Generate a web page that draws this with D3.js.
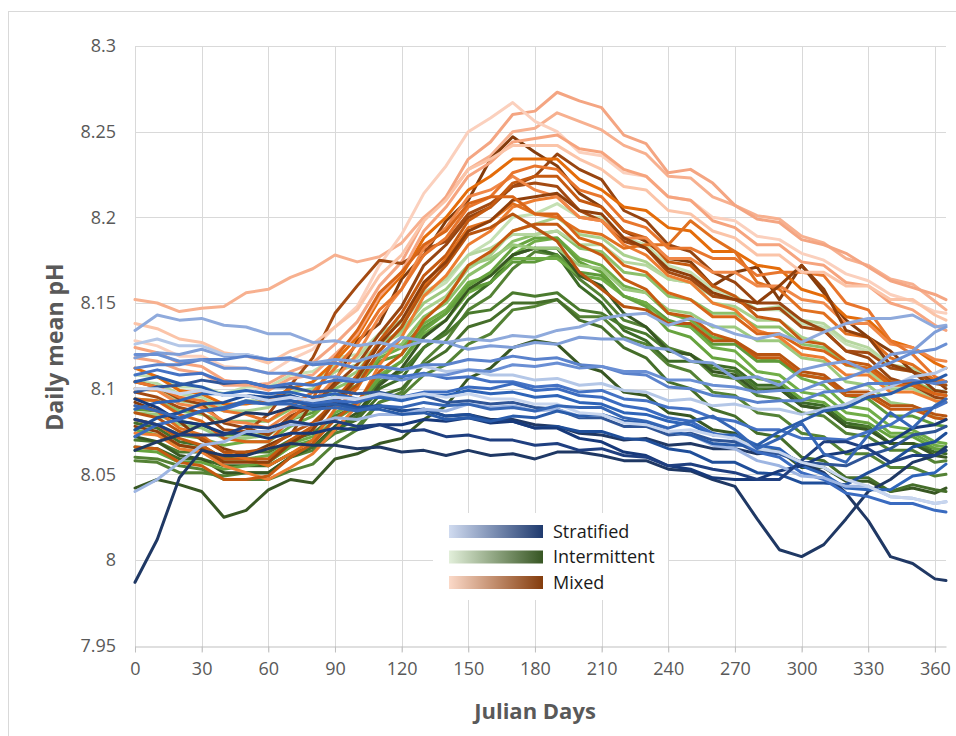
<!DOCTYPE html>
<html>
<head>
	<meta charset="utf-8">
	<title>Daily mean pH</title>
	<style>
		body { margin: 0; background: #fff; }
		text { font-family: "Open Sans", "DejaVu Sans", sans-serif; }
	</style>
	<script src="https://d3js.org/d3.v7.min.js"></script>
</head>
<body>
<script>

// sample days (Julian day) shared by every series
var days = [0, 10, 20, 30, 40, 50, 60, 70, 80, 90, 100, 110, 120, 130, 140, 150, 160, 170, 180, 190, 200, 210, 220, 230, 240, 250, 260, 270, 280, 290, 300, 310, 320, 330, 340, 350, 360, 365];

var xTicks = [0, 30, 60, 90, 120, 150, 180, 210, 240, 270, 300, 330, 360];
var yTicks = [7.95, 8, 8.05, 8.1, 8.15, 8.2, 8.25, 8.3];

var legendLabels = ["Stratified", "Intermittent", "Mixed"];

// Mixed sites
var mixed = [
	[8.152, 8.150, 8.145, 8.147, 8.148, 8.156, 8.158, 8.165, 8.170, 8.178, 8.174, 8.177, 8.185, 8.200, 8.211, 8.228, 8.236, 8.250, 8.252, 8.261, 8.256, 8.251, 8.242, 8.237, 8.224, 8.223, 8.212, 8.207, 8.201, 8.199, 8.189, 8.185, 8.176, 8.172, 8.164, 8.161, 8.151, 8.146],
	[8.118, 8.116, 8.111, 8.109, 8.102, 8.102, 8.103, 8.110, 8.115, 8.126, 8.139, 8.160, 8.174, 8.198, 8.212, 8.234, 8.244, 8.260, 8.262, 8.273, 8.268, 8.264, 8.248, 8.243, 8.226, 8.228, 8.220, 8.207, 8.199, 8.197, 8.187, 8.184, 8.179, 8.171, 8.163, 8.159, 8.155, 8.152],
	[8.128, 8.125, 8.119, 8.119, 8.113, 8.112, 8.109, 8.117, 8.123, 8.136, 8.148, 8.172, 8.190, 8.214, 8.230, 8.250, 8.258, 8.267, 8.256, 8.250, 8.238, 8.236, 8.226, 8.224, 8.212, 8.210, 8.200, 8.198, 8.189, 8.187, 8.179, 8.175, 8.167, 8.163, 8.155, 8.151, 8.145, 8.144],
	[8.092, 8.087, 8.081, 8.070, 8.065, 8.061, 8.067, 8.073, 8.092, 8.104, 8.128, 8.138, 8.164, 8.178, 8.198, 8.210, 8.234, 8.247, 8.238, 8.230, 8.214, 8.206, 8.192, 8.186, 8.176, 8.174, 8.160, 8.168, 8.171, 8.152, 8.172, 8.156, 8.140, 8.130, 8.122, 8.110, 8.105, 8.100],
	[8.104, 8.101, 8.094, 8.091, 8.080, 8.077, 8.073, 8.084, 8.090, 8.102, 8.114, 8.132, 8.148, 8.172, 8.184, 8.200, 8.206, 8.218, 8.224, 8.237, 8.228, 8.222, 8.204, 8.198, 8.184, 8.180, 8.168, 8.162, 8.150, 8.150, 8.140, 8.134, 8.122, 8.118, 8.106, 8.102, 8.095, 8.094],
	[8.098, 8.095, 8.089, 8.086, 8.076, 8.075, 8.085, 8.102, 8.118, 8.144, 8.160, 8.175, 8.173, 8.181, 8.186, 8.202, 8.208, 8.218, 8.220, 8.218, 8.204, 8.198, 8.186, 8.182, 8.168, 8.164, 8.154, 8.152, 8.146, 8.147, 8.136, 8.134, 8.122, 8.121, 8.112, 8.110, 8.103, 8.102],
	[8.082, 8.079, 8.071, 8.067, 8.059, 8.059, 8.059, 8.070, 8.078, 8.094, 8.108, 8.128, 8.144, 8.166, 8.178, 8.198, 8.206, 8.220, 8.224, 8.224, 8.210, 8.206, 8.192, 8.188, 8.174, 8.172, 8.160, 8.154, 8.142, 8.140, 8.128, 8.126, 8.116, 8.114, 8.104, 8.104, 8.097, 8.096],
	[8.112, 8.107, 8.099, 8.097, 8.091, 8.091, 8.093, 8.100, 8.104, 8.116, 8.130, 8.152, 8.166, 8.188, 8.200, 8.216, 8.224, 8.234, 8.234, 8.234, 8.222, 8.216, 8.206, 8.204, 8.194, 8.192, 8.180, 8.180, 8.172, 8.170, 8.158, 8.154, 8.142, 8.140, 8.128, 8.124, 8.115, 8.112],
	[8.074, 8.073, 8.065, 8.063, 8.055, 8.051, 8.047, 8.054, 8.062, 8.076, 8.090, 8.114, 8.130, 8.154, 8.166, 8.184, 8.192, 8.206, 8.210, 8.212, 8.200, 8.198, 8.184, 8.178, 8.166, 8.162, 8.150, 8.146, 8.134, 8.130, 8.120, 8.118, 8.108, 8.108, 8.098, 8.098, 8.093, 8.092],
	[8.090, 8.087, 8.077, 8.073, 8.063, 8.059, 8.055, 8.062, 8.070, 8.088, 8.100, 8.122, 8.136, 8.160, 8.176, 8.194, 8.198, 8.208, 8.202, 8.200, 8.192, 8.190, 8.182, 8.184, 8.184, 8.198, 8.188, 8.180, 8.162, 8.158, 8.146, 8.144, 8.132, 8.130, 8.118, 8.114, 8.105, 8.104],
	[8.100, 8.099, 8.091, 8.089, 8.081, 8.080, 8.077, 8.086, 8.092, 8.106, 8.120, 8.142, 8.158, 8.182, 8.194, 8.212, 8.216, 8.224, 8.216, 8.212, 8.200, 8.198, 8.188, 8.188, 8.176, 8.176, 8.168, 8.168, 8.160, 8.160, 8.152, 8.150, 8.138, 8.138, 8.126, 8.124, 8.117, 8.116],
	[8.066, 8.065, 8.057, 8.055, 8.047, 8.047, 8.049, 8.060, 8.068, 8.082, 8.092, 8.110, 8.120, 8.140, 8.152, 8.172, 8.180, 8.192, 8.196, 8.196, 8.184, 8.178, 8.164, 8.158, 8.144, 8.142, 8.132, 8.128, 8.118, 8.118, 8.108, 8.106, 8.096, 8.096, 8.088, 8.088, 8.083, 8.082],
	[8.086, 8.083, 8.075, 8.071, 8.063, 8.063, 8.065, 8.074, 8.080, 8.092, 8.102, 8.122, 8.136, 8.158, 8.172, 8.190, 8.194, 8.202, 8.194, 8.186, 8.168, 8.158, 8.148, 8.146, 8.138, 8.138, 8.128, 8.128, 8.120, 8.120, 8.110, 8.108, 8.098, 8.098, 8.090, 8.090, 8.085, 8.084],
	[8.124, 8.121, 8.115, 8.113, 8.105, 8.103, 8.099, 8.106, 8.108, 8.120, 8.132, 8.154, 8.168, 8.192, 8.206, 8.224, 8.232, 8.244, 8.246, 8.248, 8.240, 8.238, 8.228, 8.224, 8.212, 8.210, 8.198, 8.194, 8.184, 8.184, 8.174, 8.172, 8.162, 8.160, 8.150, 8.146, 8.137, 8.134],
	[8.104, 8.101, 8.095, 8.093, 8.087, 8.085, 8.081, 8.090, 8.098, 8.112, 8.126, 8.146, 8.158, 8.178, 8.188, 8.206, 8.212, 8.226, 8.230, 8.228, 8.216, 8.212, 8.198, 8.194, 8.182, 8.182, 8.176, 8.176, 8.166, 8.168, 8.168, 8.166, 8.150, 8.146, 8.128, 8.120, 8.107, 8.104],
	[8.078, 8.075, 8.067, 8.065, 8.057, 8.057, 8.057, 8.068, 8.076, 8.092, 8.106, 8.126, 8.140, 8.162, 8.174, 8.192, 8.198, 8.210, 8.212, 8.214, 8.204, 8.202, 8.188, 8.182, 8.170, 8.166, 8.156, 8.152, 8.150, 8.160, 8.172, 8.158, 8.134, 8.130, 8.114, 8.110, 8.099, 8.098],
	[8.138, 8.135, 8.129, 8.127, 8.121, 8.119, 8.115, 8.122, 8.126, 8.136, 8.146, 8.166, 8.178, 8.198, 8.210, 8.228, 8.234, 8.242, 8.242, 8.242, 8.234, 8.228, 8.218, 8.216, 8.204, 8.202, 8.192, 8.188, 8.178, 8.178, 8.168, 8.168, 8.160, 8.160, 8.152, 8.152, 8.143, 8.140],
	[8.094, 8.093, 8.085, 8.081, 8.071, 8.069, 8.069, 8.082, 8.094, 8.118, 8.134, 8.156, 8.168, 8.184, 8.192, 8.208, 8.212, 8.212, 8.202, 8.202, 8.188, 8.184, 8.172, 8.168, 8.156, 8.152, 8.142, 8.142, 8.132, 8.132, 8.124, 8.122, 8.114, 8.112, 8.102, 8.102, 8.097, 8.096]
];
var mixedColors = ["#f7b08f", "#f4a582", "#fbd0bd", "#843c0c", "#974511", "#a34a12", "#c55a11", "#e46c0a", "#ed7d31", "#e0701f", "#f08848", "#c55a11", "#b85410", "#f6a47e", "#e8762d", "#8f3f0b", "#fbc4a8", "#d86518"];

// Intermittent sites
var intermittent = [
	[8.042, 8.047, 8.044, 8.040, 8.025, 8.029, 8.041, 8.047, 8.045, 8.059, 8.062, 8.068, 8.071, 8.082, 8.090, 8.106, 8.112, 8.124, 8.128, 8.126, 8.114, 8.110, 8.098, 8.096, 8.086, 8.084, 8.076, 8.074, 8.064, 8.064, 8.054, 8.054, 8.046, 8.046, 8.040, 8.042, 8.039, 8.042],
	[8.060, 8.059, 8.055, 8.053, 8.047, 8.047, 8.047, 8.052, 8.056, 8.068, 8.076, 8.092, 8.098, 8.116, 8.128, 8.146, 8.154, 8.170, 8.180, 8.178, 8.164, 8.154, 8.140, 8.136, 8.124, 8.120, 8.108, 8.106, 8.096, 8.094, 8.086, 8.084, 8.074, 8.072, 8.064, 8.064, 8.057, 8.058],
	[8.076, 8.073, 8.067, 8.065, 8.059, 8.059, 8.061, 8.068, 8.072, 8.086, 8.092, 8.108, 8.116, 8.132, 8.140, 8.156, 8.162, 8.178, 8.186, 8.188, 8.176, 8.172, 8.160, 8.156, 8.144, 8.140, 8.130, 8.128, 8.118, 8.116, 8.106, 8.102, 8.090, 8.088, 8.078, 8.076, 8.069, 8.068],
	[8.100, 8.099, 8.093, 8.091, 8.087, 8.087, 8.089, 8.098, 8.100, 8.110, 8.114, 8.126, 8.132, 8.146, 8.154, 8.170, 8.178, 8.192, 8.196, 8.200, 8.190, 8.188, 8.178, 8.174, 8.164, 8.162, 8.150, 8.148, 8.140, 8.140, 8.130, 8.126, 8.114, 8.110, 8.100, 8.100, 8.093, 8.092],
	[8.066, 8.065, 8.059, 8.059, 8.055, 8.055, 8.055, 8.062, 8.066, 8.076, 8.084, 8.100, 8.106, 8.124, 8.134, 8.152, 8.162, 8.178, 8.182, 8.178, 8.160, 8.150, 8.134, 8.128, 8.116, 8.116, 8.114, 8.112, 8.102, 8.102, 8.092, 8.090, 8.080, 8.078, 8.068, 8.068, 8.063, 8.062],
	[8.088, 8.087, 8.081, 8.079, 8.073, 8.073, 8.073, 8.082, 8.086, 8.096, 8.102, 8.116, 8.120, 8.136, 8.144, 8.158, 8.162, 8.174, 8.174, 8.178, 8.168, 8.166, 8.154, 8.150, 8.140, 8.136, 8.126, 8.126, 8.116, 8.116, 8.108, 8.106, 8.096, 8.094, 8.084, 8.084, 8.079, 8.078],
	[8.108, 8.107, 8.101, 8.101, 8.097, 8.101, 8.101, 8.108, 8.110, 8.118, 8.120, 8.132, 8.138, 8.154, 8.162, 8.178, 8.186, 8.200, 8.202, 8.208, 8.200, 8.200, 8.188, 8.184, 8.172, 8.168, 8.158, 8.154, 8.146, 8.146, 8.138, 8.136, 8.126, 8.122, 8.112, 8.110, 8.103, 8.102],
	[8.082, 8.079, 8.073, 8.071, 8.067, 8.069, 8.069, 8.078, 8.084, 8.096, 8.102, 8.118, 8.124, 8.138, 8.146, 8.162, 8.166, 8.176, 8.176, 8.176, 8.166, 8.164, 8.154, 8.150, 8.138, 8.136, 8.124, 8.122, 8.110, 8.108, 8.098, 8.096, 8.086, 8.084, 8.074, 8.074, 8.067, 8.066],
	[8.070, 8.069, 8.063, 8.063, 8.059, 8.063, 8.063, 8.070, 8.074, 8.084, 8.090, 8.104, 8.110, 8.124, 8.132, 8.144, 8.146, 8.156, 8.154, 8.156, 8.146, 8.144, 8.136, 8.132, 8.122, 8.120, 8.112, 8.110, 8.100, 8.100, 8.090, 8.088, 8.078, 8.078, 8.068, 8.068, 8.065, 8.064],
	[8.094, 8.093, 8.087, 8.085, 8.081, 8.081, 8.081, 8.088, 8.092, 8.100, 8.106, 8.120, 8.126, 8.142, 8.150, 8.166, 8.174, 8.186, 8.190, 8.192, 8.182, 8.180, 8.168, 8.166, 8.154, 8.152, 8.144, 8.144, 8.136, 8.136, 8.126, 8.124, 8.114, 8.112, 8.104, 8.104, 8.099, 8.098],
	[8.058, 8.057, 8.051, 8.051, 8.049, 8.051, 8.051, 8.060, 8.064, 8.074, 8.078, 8.092, 8.096, 8.108, 8.114, 8.126, 8.132, 8.146, 8.148, 8.152, 8.142, 8.142, 8.130, 8.126, 8.114, 8.110, 8.098, 8.096, 8.086, 8.084, 8.074, 8.072, 8.062, 8.062, 8.054, 8.054, 8.049, 8.050],
	[8.104, 8.103, 8.097, 8.095, 8.089, 8.093, 8.093, 8.100, 8.104, 8.114, 8.118, 8.132, 8.140, 8.156, 8.164, 8.178, 8.182, 8.190, 8.190, 8.192, 8.184, 8.184, 8.174, 8.172, 8.164, 8.162, 8.154, 8.154, 8.146, 8.148, 8.140, 8.138, 8.128, 8.124, 8.114, 8.112, 8.105, 8.104],
	[8.072, 8.069, 8.061, 8.059, 8.051, 8.051, 8.051, 8.060, 8.066, 8.078, 8.086, 8.102, 8.112, 8.130, 8.140, 8.158, 8.166, 8.178, 8.182, 8.182, 8.166, 8.160, 8.144, 8.136, 8.122, 8.120, 8.110, 8.108, 8.098, 8.100, 8.090, 8.088, 8.078, 8.076, 8.068, 8.068, 8.061, 8.060],
	[8.064, 8.063, 8.057, 8.057, 8.053, 8.055, 8.057, 8.066, 8.070, 8.082, 8.090, 8.106, 8.116, 8.134, 8.144, 8.160, 8.168, 8.182, 8.188, 8.188, 8.174, 8.168, 8.154, 8.148, 8.134, 8.130, 8.118, 8.116, 8.106, 8.104, 8.094, 8.092, 8.082, 8.080, 8.072, 8.072, 8.065, 8.064],
	[8.080, 8.077, 8.069, 8.067, 8.059, 8.059, 8.055, 8.062, 8.066, 8.076, 8.082, 8.096, 8.100, 8.114, 8.122, 8.136, 8.140, 8.150, 8.150, 8.152, 8.140, 8.136, 8.124, 8.118, 8.104, 8.100, 8.088, 8.084, 8.074, 8.072, 8.060, 8.058, 8.048, 8.048, 8.040, 8.044, 8.041, 8.040],
	[8.086, 8.085, 8.079, 8.077, 8.071, 8.071, 8.073, 8.082, 8.088, 8.102, 8.110, 8.126, 8.134, 8.150, 8.158, 8.172, 8.176, 8.184, 8.182, 8.182, 8.172, 8.170, 8.158, 8.156, 8.146, 8.144, 8.136, 8.136, 8.128, 8.128, 8.118, 8.116, 8.104, 8.102, 8.092, 8.090, 8.083, 8.082]
];
var intermittentColors = ["#385723", "#548235", "#70ad47", "#a9d18e", "#3d6b27", "#5e9a3a", "#c5e0b4", "#70ad47", "#4a7a2e", "#8cc06a", "#548235", "#b6d7a0", "#385723", "#66a33e", "#456e2a", "#9cc97e"];

// Stratified sites
var stratified = [
	[8.134, 8.143, 8.140, 8.141, 8.137, 8.136, 8.132, 8.132, 8.127, 8.128, 8.125, 8.127, 8.124, 8.128, 8.127, 8.129, 8.128, 8.131, 8.130, 8.134, 8.136, 8.141, 8.143, 8.144, 8.137, 8.141, 8.137, 8.132, 8.129, 8.132, 8.127, 8.133, 8.138, 8.141, 8.141, 8.143, 8.136, 8.137],
	[8.118, 8.121, 8.120, 8.123, 8.119, 8.120, 8.117, 8.117, 8.115, 8.117, 8.116, 8.120, 8.130, 8.128, 8.127, 8.123, 8.125, 8.124, 8.127, 8.126, 8.130, 8.129, 8.129, 8.124, 8.123, 8.116, 8.115, 8.106, 8.107, 8.102, 8.111, 8.114, 8.116, 8.110, 8.120, 8.122, 8.133, 8.136],
	[8.126, 8.129, 8.125, 8.125, 8.120, 8.120, 8.117, 8.118, 8.114, 8.115, 8.112, 8.113, 8.111, 8.113, 8.110, 8.111, 8.108, 8.108, 8.105, 8.106, 8.102, 8.103, 8.099, 8.098, 8.093, 8.094, 8.090, 8.091, 8.088, 8.088, 8.085, 8.088, 8.091, 8.097, 8.101, 8.107, 8.109, 8.112],
	[7.987, 8.012, 8.048, 8.064, 8.061, 8.061, 8.065, 8.068, 8.067, 8.067, 8.065, 8.066, 8.063, 8.064, 8.061, 8.064, 8.061, 8.062, 8.059, 8.063, 8.063, 8.061, 8.058, 8.058, 8.053, 8.052, 8.047, 8.043, 8.024, 8.006, 8.002, 8.009, 8.024, 8.040, 8.047, 8.057, 8.061, 8.066],
	[8.064, 8.069, 8.073, 8.079, 8.081, 8.086, 8.085, 8.089, 8.089, 8.091, 8.089, 8.090, 8.087, 8.088, 8.084, 8.085, 8.082, 8.082, 8.079, 8.078, 8.074, 8.073, 8.070, 8.071, 8.067, 8.068, 8.065, 8.065, 8.062, 8.063, 8.057, 8.051, 8.039, 8.023, 8.002, 7.998, 7.989, 7.988],
	[8.098, 8.101, 8.102, 8.105, 8.103, 8.104, 8.101, 8.101, 8.098, 8.099, 8.097, 8.098, 8.095, 8.096, 8.092, 8.093, 8.091, 8.092, 8.089, 8.088, 8.083, 8.083, 8.078, 8.078, 8.073, 8.074, 8.070, 8.069, 8.063, 8.062, 8.057, 8.056, 8.055, 8.061, 8.065, 8.073, 8.075, 8.078],
	[8.108, 8.111, 8.108, 8.109, 8.104, 8.104, 8.101, 8.103, 8.102, 8.105, 8.104, 8.108, 8.107, 8.109, 8.106, 8.107, 8.104, 8.104, 8.101, 8.102, 8.098, 8.099, 8.094, 8.093, 8.089, 8.088, 8.083, 8.081, 8.076, 8.076, 8.071, 8.071, 8.070, 8.075, 8.079, 8.087, 8.089, 8.092],
	[8.088, 8.092, 8.093, 8.097, 8.097, 8.099, 8.097, 8.098, 8.095, 8.097, 8.094, 8.095, 8.093, 8.096, 8.096, 8.099, 8.097, 8.098, 8.095, 8.096, 8.092, 8.091, 8.086, 8.085, 8.081, 8.079, 8.073, 8.073, 8.067, 8.065, 8.055, 8.050, 8.042, 8.041, 8.041, 8.049, 8.051, 8.056],
	[8.076, 8.083, 8.086, 8.091, 8.092, 8.096, 8.095, 8.096, 8.092, 8.093, 8.089, 8.090, 8.087, 8.088, 8.084, 8.085, 8.081, 8.081, 8.077, 8.078, 8.075, 8.075, 8.071, 8.070, 8.065, 8.063, 8.057, 8.057, 8.051, 8.050, 8.045, 8.045, 8.044, 8.051, 8.057, 8.066, 8.069, 8.074],
	[8.112, 8.114, 8.114, 8.117, 8.117, 8.119, 8.117, 8.118, 8.114, 8.115, 8.112, 8.113, 8.111, 8.114, 8.114, 8.117, 8.116, 8.119, 8.117, 8.118, 8.114, 8.113, 8.109, 8.108, 8.101, 8.100, 8.096, 8.095, 8.092, 8.093, 8.093, 8.098, 8.099, 8.103, 8.103, 8.105, 8.103, 8.104],
	[8.094, 8.089, 8.081, 8.079, 8.074, 8.074, 8.071, 8.074, 8.074, 8.077, 8.076, 8.079, 8.079, 8.082, 8.081, 8.083, 8.080, 8.081, 8.077, 8.077, 8.071, 8.069, 8.063, 8.061, 8.055, 8.053, 8.048, 8.047, 8.047, 8.052, 8.055, 8.061, 8.063, 8.067, 8.069, 8.077, 8.079, 8.082],
	[8.072, 8.079, 8.082, 8.087, 8.088, 8.092, 8.091, 8.093, 8.091, 8.093, 8.092, 8.096, 8.095, 8.098, 8.098, 8.101, 8.100, 8.103, 8.099, 8.100, 8.096, 8.095, 8.090, 8.088, 8.083, 8.081, 8.074, 8.071, 8.063, 8.060, 8.051, 8.047, 8.039, 8.037, 8.033, 8.033, 8.029, 8.028],
	[8.040, 8.047, 8.057, 8.067, 8.069, 8.075, 8.075, 8.079, 8.079, 8.083, 8.082, 8.085, 8.085, 8.088, 8.087, 8.091, 8.089, 8.090, 8.087, 8.088, 8.084, 8.085, 8.081, 8.080, 8.075, 8.073, 8.067, 8.065, 8.058, 8.055, 8.049, 8.048, 8.043, 8.043, 8.037, 8.036, 8.033, 8.034],
	[8.104, 8.107, 8.103, 8.101, 8.096, 8.096, 8.093, 8.093, 8.090, 8.091, 8.088, 8.088, 8.085, 8.086, 8.082, 8.083, 8.081, 8.084, 8.083, 8.087, 8.084, 8.085, 8.081, 8.080, 8.075, 8.073, 8.068, 8.067, 8.067, 8.075, 8.081, 8.087, 8.089, 8.095, 8.097, 8.103, 8.105, 8.108],
	[8.120, 8.120, 8.116, 8.117, 8.112, 8.112, 8.109, 8.109, 8.106, 8.107, 8.105, 8.107, 8.105, 8.108, 8.108, 8.111, 8.110, 8.114, 8.113, 8.115, 8.112, 8.113, 8.110, 8.110, 8.105, 8.105, 8.102, 8.101, 8.098, 8.099, 8.099, 8.104, 8.106, 8.111, 8.115, 8.121, 8.123, 8.126],
	[8.082, 8.079, 8.073, 8.073, 8.073, 8.078, 8.077, 8.081, 8.079, 8.081, 8.078, 8.079, 8.075, 8.076, 8.072, 8.073, 8.070, 8.070, 8.067, 8.068, 8.064, 8.065, 8.061, 8.060, 8.055, 8.056, 8.053, 8.051, 8.047, 8.047, 8.058, 8.069, 8.069, 8.065, 8.057, 8.061, 8.061, 8.064],
	[8.100, 8.100, 8.097, 8.099, 8.096, 8.096, 8.093, 8.095, 8.093, 8.095, 8.094, 8.097, 8.095, 8.097, 8.095, 8.097, 8.094, 8.094, 8.091, 8.091, 8.086, 8.085, 8.080, 8.079, 8.075, 8.076, 8.073, 8.071, 8.065, 8.063, 8.057, 8.054, 8.047, 8.043, 8.037, 8.036, 8.033, 8.034],
	[8.090, 8.087, 8.083, 8.087, 8.089, 8.093, 8.091, 8.091, 8.088, 8.089, 8.087, 8.090, 8.089, 8.092, 8.090, 8.091, 8.088, 8.089, 8.087, 8.090, 8.089, 8.089, 8.083, 8.081, 8.077, 8.081, 8.084, 8.076, 8.065, 8.071, 8.080, 8.062, 8.057, 8.073, 8.086, 8.077, 8.090, 8.094]
];
var stratifiedColors = ["#8faadc", "#7f9ed8", "#b4c7e7", "#1f3864", "#203864", "#2f5597", "#4472c4", "#2e64b8", "#1f4e99", "#5a82cc", "#17397a", "#3a6bc0", "#9db5e2", "#2a5caa", "#6a8fd4", "#1f3f80", "#c7d5ee", "#3566b5"];

// legend gradient ends (light -> dark)
var legendStops = [["#d0dbf0", "#1f3a6e"], ["#e2efda", "#375623"], ["#fbd9c8", "#843c0c"]];

var width = 956, height = 736;

var svg = d3.select("body").append("svg")
	.attr("width", width)
	.attr("height", height);

svg.append("rect")
	.attr("width", width).attr("height", height)
	.attr("fill", "#fff");

// chart border
svg.append("rect")
	.attr("x", 8.5).attr("y", 11.5)
	.attr("width", 960).attr("height", 740)
	.attr("fill", "none")
	.attr("stroke", "#d9d9d9");

var x = d3.scaleLinear().domain([0, 365]).range([135, 946]);
var y = d3.scaleLinear().domain([7.95, 8.3]).range([645.7, 46]);

// gridlines
svg.append("g").selectAll("line")
	.data(yTicks.slice(1))
	.enter().append("line")
	.attr("x1", x(0)).attr("x2", x(365))
	.attr("y1", function(d) { return Math.round(y(d)) + 0.5; })
	.attr("y2", function(d) { return Math.round(y(d)) + 0.5; })
	.attr("stroke", "#d9d9d9");

svg.append("g").selectAll("line")
	.data(xTicks)
	.enter().append("line")
	.attr("x1", function(d) { return Math.round(x(d)) + 0.5; })
	.attr("x2", function(d) { return Math.round(x(d)) + 0.5; })
	.attr("y1", y(8.3)).attr("y2", y(7.95) + 6)
	.attr("stroke", "#d9d9d9");

// x axis
var xAxis = svg.append("g")
	.attr("transform", "translate(0," + (Math.round(y(7.95)) + 0.5) + ")")
	.call(d3.axisBottom(x).tickValues(xTicks).tickSize(6).tickPadding(10).tickSizeOuter(0));
xAxis.select(".domain").attr("stroke", "#bfbfbf");
xAxis.selectAll(".tick line").attr("stroke", "#bfbfbf");
xAxis.selectAll(".tick text")
	.attr("fill", "#595959")
	.style("font-size", "18px");

// y axis labels
var yAxis = svg.append("g")
	.attr("transform", "translate(135,0)")
	.call(d3.axisLeft(y).tickValues(yTicks).tickSize(0).tickPadding(19).tickFormat(function(d) { return String(+d.toFixed(2)); }));
yAxis.select(".domain").remove();
yAxis.selectAll(".tick text")
	.attr("fill", "#595959")
	.style("font-size", "18px");

// series
var line = d3.line()
	.x(function(d, i) { return x(days[i]); })
	.y(function(d) { return y(d); });

function drawGroup(data, colors) {
	svg.append("g")
		.selectAll("path")
		.data(data)
		.enter().append("path")
		.attr("d", line)
		.attr("fill", "none")
		.attr("stroke", function(d, i) { return colors[i]; })
		.attr("stroke-width", 3)
		.attr("stroke-linejoin", "round")
		.attr("stroke-linecap", "round");
}

drawGroup(intermittent, intermittentColors);
drawGroup(mixed, mixedColors);
drawGroup(stratified, stratifiedColors);

// axis titles
svg.append("text")
	.attr("x", 535).attr("y", 719)
	.attr("text-anchor", "middle")
	.attr("fill", "#595959")
	.style("font-size", "22px")
	.style("font-weight", "bold")
	.text("Julian Days");

svg.append("text")
	.attr("transform", "translate(63,347) rotate(-90)")
	.attr("text-anchor", "middle")
	.attr("fill", "#595959")
	.style("font-size", "23px")
	.style("font-weight", "bold")
	.text("Daily mean pH");

// legend
var defs = svg.append("defs");
legendStops.forEach(function(s, i) {
	var g = defs.append("linearGradient").attr("id", "lg" + i);
	g.append("stop").attr("offset", "0%").attr("stop-color", s[0]);
	g.append("stop").attr("offset", "100%").attr("stop-color", s[1]);
});

var legend = svg.append("g");
legend.append("rect")
	.attr("x", 433).attr("y", 513)
	.attr("width", 235).attr("height", 87)
	.attr("fill", "#fff");

var entry = legend.selectAll(".entry")
	.data(legendLabels)
	.enter().append("g")
	.attr("class", "entry")
	.attr("transform", function(d, i) { return "translate(449," + (525 + i * 25.5) + ")"; });

entry.append("rect")
	.attr("width", 94).attr("height", 13)
	.attr("fill", function(d, i) { return "url(#lg" + i + ")"; });

entry.append("text")
	.attr("x", 104).attr("y", 6.5)
	.attr("dy", "0.35em")
	.attr("fill", "#1a1a1a")
	.style("font-size", "18px")
	.text(function(d) { return d; });

</script>
</body>
</html>
